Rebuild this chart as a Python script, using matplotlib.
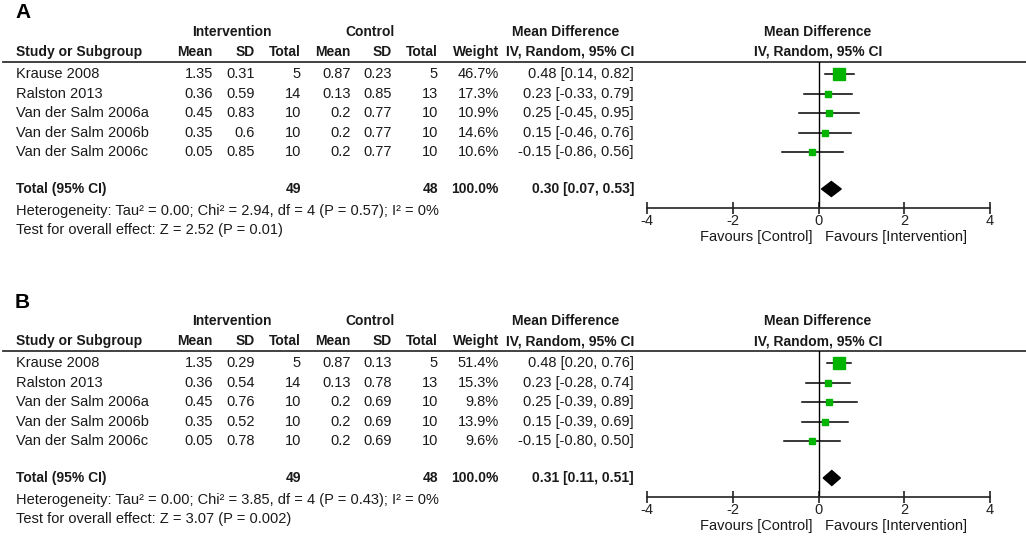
import matplotlib.pyplot as plt
from matplotlib.patches import Polygon

plt.rcParams['font.family'] = ['Liberation Sans', 'DejaVu Sans']

W, H = 1026, 538
FS = 10.5
FSB = 10
TXT = '#1a1a1a'
GREEN = '#00b400'

studies = ['Krause 2008', 'Ralston 2013', 'Van der Salm 2006a',
           'Van der Salm 2006b', 'Van der Salm 2006c']
int_mean = [1.35, 0.36, 0.45, 0.35, 0.05]
int_n = [5, 14, 10, 10, 10]
ctl_mean = [0.87, 0.13, 0.2, 0.2, 0.2]
ctl_n = [5, 13, 10, 10, 10]
md = [0.48, 0.23, 0.25, 0.15, -0.15]

# panel A
a_int_sd = [0.31, 0.59, 0.83, 0.6, 0.85]
a_ctl_sd = [0.23, 0.85, 0.77, 0.77, 0.77]
a_weight = [46.7, 17.3, 10.9, 14.6, 10.6]
a_lo = [0.14, -0.33, -0.45, -0.46, -0.86]
a_hi = [0.82, 0.79, 0.95, 0.76, 0.56]
a_total = [0.30, 0.07, 0.53]
a_notes = ['Heterogeneity: Tau² = 0.00; Chi² = 2.94, df = 4 (P = 0.57); I² = 0%',
           'Test for overall effect: Z = 2.52 (P = 0.01)']

# panel B
b_int_sd = [0.29, 0.54, 0.76, 0.52, 0.78]
b_ctl_sd = [0.13, 0.78, 0.69, 0.69, 0.69]
b_weight = [51.4, 15.3, 9.8, 13.9, 9.6]
b_lo = [0.20, -0.28, -0.39, -0.39, -0.80]
b_hi = [0.76, 0.74, 0.89, 0.69, 0.50]
b_total = [0.31, 0.11, 0.51]
b_notes = ['Heterogeneity: Tau² = 0.00; Chi² = 3.85, df = 4 (P = 0.43); I² = 0%',
           'Test for overall effect: Z = 3.07 (P = 0.002)']

xticks = [-4, -2, 0, 2, 4]

fig = plt.figure(figsize=(W / 100, H / 100), dpi=100)
tx = fig.add_axes([0, 0, 1, 1])
tx.set_xlim(0, W)
tx.set_ylim(H, 0)
tx.axis('off')


def rect(x0, y0, x1, y1):
    return [x0 / W, 1 - y1 / H, (x1 - x0) / W, (y1 - y0) / H]


def panel(letter, off, int_sd, ctl_sd, weight, lo, hi, total, notes):
    t = dict(color=TXT, fontsize=FS, va='center')
    b = dict(color=TXT, fontsize=FSB, va='center', fontweight='bold')
    tx.text(15, 13 + off, letter, fontsize=15, fontweight='bold', va='center', color='black')
    # headers
    tx.text(232, 32 + off, 'Intervention', ha='center', **b)
    tx.text(370, 32 + off, 'Control', ha='center', **b)
    tx.text(566, 32 + off, 'Mean Difference', ha='center', **b)
    tx.text(818, 32 + off, 'Mean Difference', ha='center', **b)
    tx.text(16, 52 + off, 'Study or Subgroup', ha='left', **b)
    cols = [213, 255, 301, 351, 392, 438, 499]
    for x, s in zip(cols, ['Mean', 'SD', 'Total', 'Mean', 'SD', 'Total', 'Weight']):
        tx.text(x, 52 + off, s, ha='right', **b)
    tx.text(634, 52 + off, 'IV, Random, 95% CI', ha='right', **b)
    tx.text(818, 52 + off, 'IV, Random, 95% CI', ha='center', **b)
    tx.plot([3, W], [62 + off, 62 + off], color='#333333', lw=1.3)

    # rows
    for i, s in enumerate(studies):
        y = 74 + 19.6 * i + off
        tx.text(16, y, s, ha='left', **t)
        vals = ['%g' % int_mean[i], '%g' % int_sd[i], '%d' % int_n[i],
                '%g' % ctl_mean[i], '%g' % ctl_sd[i], '%d' % ctl_n[i],
                '%.1f%%' % weight[i]]
        for x, v in zip(cols, vals):
            tx.text(x, y, v, ha='right', **t)
        tx.text(634, y, '%.2f [%.2f, %.2f]' % (md[i], lo[i], hi[i]), ha='right', **t)

    yt = 189 + off
    tx.text(16, yt, 'Total (95% CI)', ha='left', **b)
    tx.text(301, yt, '%d' % sum(int_n), ha='right', **b)
    tx.text(438, yt, '%d' % sum(ctl_n), ha='right', **b)
    tx.text(499, yt, '100.0%', ha='right', **b)
    tx.text(634, yt, '%.2f [%.2f, %.2f]' % tuple(total), ha='right', **b)
    tx.text(16, 211 + off, notes[0], ha='left', **t)
    tx.text(16, 230 + off, notes[1], ha='left', **t)
    tx.text(813, 237 + off, 'Favours [Control]', ha='right', **t)
    tx.text(825, 237 + off, 'Favours [Intervention]', ha='left', **t)

    # forest plot, rows in pixel pitch units
    ax = fig.add_axes(rect(647, 62 + off, 990, 208 + off))
    ax.patch.set_alpha(0)
    top, bot = (62 - 74) / 19.6, (208 - 74) / 19.6
    ax.set_xlim(-4, 4)
    ax.set_ylim(bot, top)
    for sp in ['left', 'right', 'top']:
        ax.spines[sp].set_visible(False)
    ax.spines['bottom'].set_linewidth(1.2)
    ax.spines['bottom'].set_color('#222222')
    ax.set_yticks([])
    ax.set_xticks(xticks)
    ax.set_xticklabels(['%d' % v for v in xticks])
    ax.tick_params(axis='x', direction='inout', length=9, width=1.2,
                   labelsize=FS, pad=0, colors='#222222')
    ax.axvline(0, color='black', lw=1)
    for i in range(len(studies)):
        ax.plot([lo[i], hi[i]], [i, i], color='black', lw=1.1, zorder=2)
        side = 1.62 * weight[i] ** 0.5
        ax.plot(md[i], i, marker='s', ms=side * 0.72, color=GREEN, mec=GREEN, zorder=3)
    yd = (189 - 74) / 19.6
    h = 7.5 / 19.6
    ax.add_patch(Polygon([(total[1], yd), (total[0], yd - h), (total[2], yd), (total[0], yd + h)],
                         closed=True, color='black', zorder=3))


panel('A', 0, a_int_sd, a_ctl_sd, a_weight, a_lo, a_hi, a_total, a_notes)
panel('B', 289, b_int_sd, b_ctl_sd, b_weight, b_lo, b_hi, b_total, b_notes)

fig.savefig('out.png', dpi=100)
